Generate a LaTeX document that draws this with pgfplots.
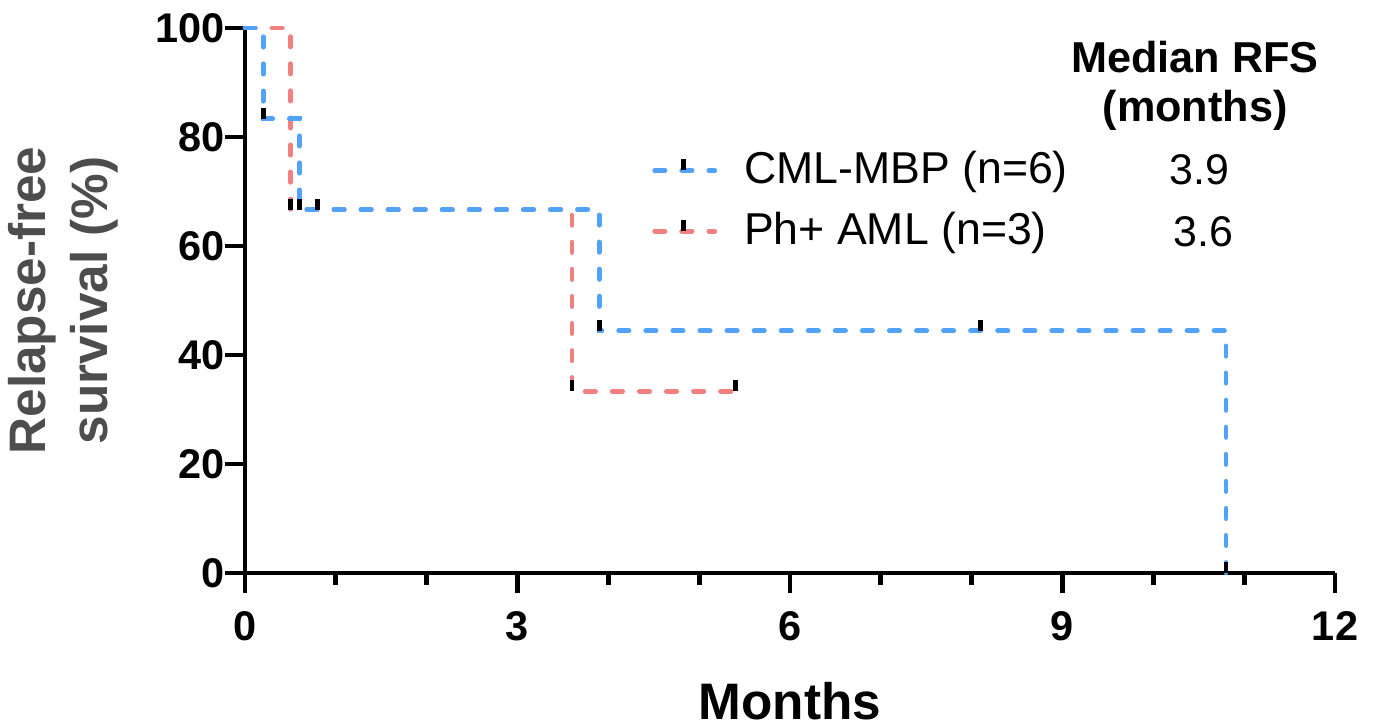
\documentclass[border=0pt]{standalone}
\usepackage{fontspec}
\setmainfont{Liberation Sans}
\usepackage{pgfplots}
\pgfplotsset{compat=1.18}

\definecolor{cmlblue}{RGB}{82,162,250}
\definecolor{amlred}{RGB}{242,128,128}
\definecolor{labgray}{RGB}{77,77,77}

\tikzset{
  kmline/.style={line width=1.4pt, line cap=round, dash pattern=on 2.9pt off 4.8pt},
}
\newcommand{\tickfont}{\fontsize{11.8}{13}\selectfont\bfseries}

\begin{document}
\begin{tikzpicture}
\path[use as bounding box] (-2.45cm,-1.55cm) rectangle (11.33cm,5.73cm);
\begin{axis}[
    scale only axis,
    width=10.9cm, height=5.45cm,
    xmin=0, xmax=12, ymin=0, ymax=100,
    axis lines=left,
    axis line style={line width=1.4pt, -},
    xtick={0,3,6,9,12},
    xticklabel={\tickfont\pgfmathprintnumber[assume math mode=true]{\tick}},
    minor x tick num=2,
    ytick={0,20,40,60,80,100},
    yticklabel={\tickfont\pgfmathprintnumber[assume math mode=true]{\tick}},
    tick align=outside,
    major tick length=0.2cm,
    minor tick length=0.12cm,
    every tick/.style={black, line width=1.4pt},
    tick label style={inner sep=0pt},
    xticklabel style={anchor=north, yshift=-0.18cm},
    yticklabel style={anchor=east, xshift=0cm},
    xlabel={Months},
    xlabel style={font=\fontsize{14.6}{17}\selectfont\bfseries, at={(axis description cs:0.5,-0.235)}, anchor=center, inner sep=0pt},
    ylabel={Relapse-free\\survival (\%)},
    ylabel style={font=\fontsize{14.6}{17.6}\selectfont\bfseries, text=labgray, align=center, at={(axis description cs:-0.167,0.5)}, anchor=center, inner sep=0pt},
    clip=false,
    legend style={draw=none, fill=none, at={(axis description cs:0.373,0.683)}, anchor=west,
        inner sep=0pt, row sep=0.23cm, column sep=0.27cm,
        font=\fontsize{12.7}{15}\selectfont, nodes={inner sep=0pt}},
    legend cell align=left,
]
\addlegendimage{legend image code/.code={
    \draw[cmlblue, kmline] (0cm,0cm) -- (0.6cm,0cm);
    \draw[black, line width=1.4pt] (0.29cm,0cm) -- (0.29cm,0.11cm);}}
\addlegendentry{CML-MBP (n=6)}
\addlegendimage{legend image code/.code={
    \draw[amlred, kmline] (0cm,0cm) -- (0.6cm,0cm);
    \draw[black, line width=1.4pt] (0.29cm,0cm) -- (0.29cm,0.11cm);}}
\addlegendentry{Ph+ AML (n=3)}

% Ph+ AML (drawn first, below)
\addplot[const plot, amlred, kmline, forget plot] coordinates {
    (0,100) (0.5,66.67) (3.6,33.33) (5.4,33.33)
};
% CML-MBP
\addplot[const plot, cmlblue, kmline, forget plot] coordinates {
    (0,100) (0.2,83.33) (0.6,66.67) (3.9,44.44) (10.8,0)
};
% censor / event ticks
\addplot[only marks, mark=|, mark size=1.55pt, forget plot,
    mark options={black, line width=1.4pt, solid, yshift=1.55pt}] coordinates {
    (0.5,66.67) (3.6,33.33) (5.4,33.33)
    (0.2,83.33) (0.6,66.67) (0.8,66.67) (3.9,44.44) (8.1,44.44) (10.8,0)
};

\node[font=\fontsize{12.3}{13.7}\selectfont\bfseries, align=center, inner sep=0pt]
    at (axis cs:10.46,89.4) {Median RFS\\(months)};
\node[font=\fontsize{12.2}{14}\selectfont, inner sep=0pt] at (axis cs:10.51,73.9) {3.9};
\node[font=\fontsize{12.2}{14}\selectfont, inner sep=0pt] at (axis cs:10.55,62.6) {3.6};
\end{axis}
\end{tikzpicture}
\end{document}
